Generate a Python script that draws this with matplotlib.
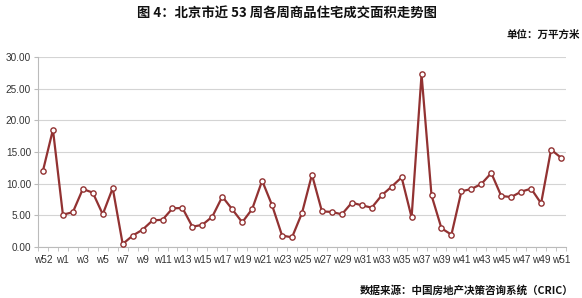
import matplotlib
matplotlib.use("Agg")
import matplotlib.pyplot as plt
from matplotlib.ticker import MultipleLocator, FixedLocator

plt.rcParams['font.family'] = ['Noto Sans CJK SC', 'DejaVu Sans']

# weekly transaction area (10k m2), last 53 weeks
weeks = ['w52', 'w53'] + ['w%d' % i for i in range(1, 52)]
area = [12.05, 18.53, 5.10, 5.50, 9.16, 8.58, 5.16, 9.30, 0.47, 1.79,
        2.74, 4.20, 4.30, 6.10, 6.16, 3.20, 3.50, 4.80, 7.95, 5.95,
        3.90, 6.00, 10.47, 6.58, 1.80, 1.53, 5.37, 11.42, 5.63, 5.53,
        5.16, 7.00, 6.58, 6.21, 8.16, 9.53, 11.00, 4.68, 27.26, 8.16,
        2.95, 1.95, 8.79, 9.16, 9.95, 11.68, 8.05, 7.89, 8.74, 9.21,
        6.89, 15.37, 14.10]

line_color = '#923232'

fig = plt.figure(figsize=(5.82, 2.98), dpi=100)
ax = fig.add_axes([38 / 582, 1 - 247 / 298, 528 / 582, 190 / 298])

x = list(range(len(weeks)))
ax.plot(x, area, color=line_color, linewidth=1.6, marker='o', markersize=3.8,
        markerfacecolor='white', markeredgecolor=line_color, markeredgewidth=1.0,
        zorder=3)

ax.set_xlim(-0.5, len(weeks) - 0.5)
ax.set_ylim(0, 30)
ax.yaxis.set_major_locator(MultipleLocator(5))
ax.yaxis.set_major_formatter(matplotlib.ticker.FormatStrFormatter('%.2f'))

label_idx = list(range(0, len(weeks), 2))
ax.set_xticks(label_idx)
ax.set_xticklabels([weeks[i] for i in label_idx])
ax.xaxis.set_minor_locator(FixedLocator([i - 0.5 for i in range(len(weeks) + 1)]))
ax.tick_params(axis='x', which='major', length=0, pad=6, labelsize=7.2,
               labelcolor='#333333')
ax.tick_params(axis='x', which='minor', length=3, color='#bbbbbb', direction='out')
ax.tick_params(axis='y', which='major', length=3, color='#bbbbbb', labelsize=7.2,
               labelcolor='#333333', pad=2)
for lbl in ax.get_xticklabels() + ax.get_yticklabels():
    lbl.set_family(['Liberation Sans', 'DejaVu Sans'])

ax.grid(axis='y', color='#d4d4d4', linewidth=0.8)
ax.set_axisbelow(True)
for s in ['top', 'right']:
    ax.spines[s].set_visible(False)
for s in ['left', 'bottom']:
    ax.spines[s].set_color('#bbbbbb')
    ax.spines[s].set_linewidth(0.8)

fig.text(287 / 582, 1 - 14 / 298, '图 4：北京市近 53 周各周商品住宅成交面积走势图',
         ha='center', va='center', fontsize=9.6, fontweight='bold', color='#111111')
fig.text(580 / 582, 1 - 35 / 298, '单位：万平方米', ha='right', va='center',
         fontsize=7.6, fontweight='bold', color='#111111')
fig.text(574 / 582, 1 - 290 / 298, '数据来源：中国房地产决策咨询系统（CRIC）',
         ha='right', va='center', fontsize=7.6, fontweight='bold', color='#111111')

fig.savefig('out.png', dpi=100)
